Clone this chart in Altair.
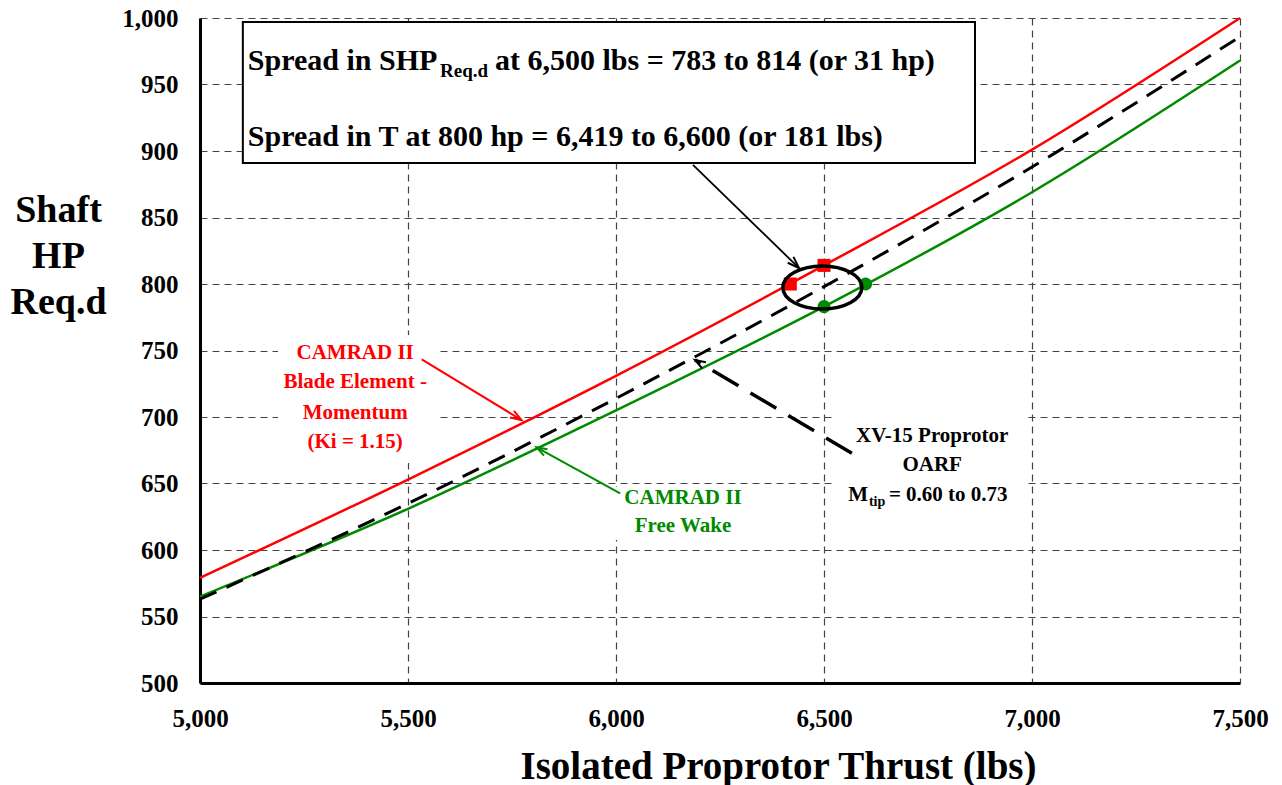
import math
import altair as alt
import pandas as pd

# ---------------- data ----------------
thrust = [5000, 5500, 6000, 6500, 7000, 7500]
shp_bem = [579, 653, 731, 814, 901, 1000]      # CAMRAD II Blade Element - Momentum (red)
shp_fw = [565, 631, 705, 783, 869, 968]        # CAMRAD II Free Wake (green)
shp_oarf = [563, 635, 714, 798, 888, 986]      # XV-15 Proprotor OARF (black dashed)

bem_mark_t = [6419, 6500]
bem_mark_p = [800, 814]
fw_mark_t = [6500, 6600]
fw_mark_p = [783, 800]

x_ticks = [5000, 5500, 6000, 6500, 7000, 7500]
y_ticks = [500, 550, 600, 650, 700, 750, 800, 850, 900, 950, 1000]

x_title = "Isolated Proprotor Thrust (lbs)"
y_title = ["Shaft", "HP", "Req.d"]

red_lines = ["CAMRAD II", "Blade Element -", "Momentum", "(Ki = 1.15)"]
green_lines = ["CAMRAD II", "Free Wake"]
black_lines = ["XV-15 Proprotor", "OARF"]
box_line1 = ["Spread in SHP", "Req.d", "at 6,500 lbs = 783 to 814 (or 31 hp)"]
box_line2 = "Spread in T at 800 hp = 6,419 to 6,600 (or 181 lbs)"
mtip = ["M", "tip", "= 0.60 to 0.73"]

# ---------------- layout / style ----------------
W, H = 1040, 665
XD = [5000, 7500]
YD = [500, 1000]
SX = W / (XD[1] - XD[0])
SY = H / (YD[1] - YD[0])
FONT = "Liberation Serif"
RED = "#ff0000"
GREEN = "#008a00"


def X(field="t"):
    return alt.X(
        f"{field}:Q",
        scale=alt.Scale(domain=XD, nice=False, zero=False),
        axis=alt.Axis(
            values=x_ticks, format=",d", grid=True, gridDash=[7, 5], gridColor="#444",
            gridWidth=1.2, domainColor="black", domainWidth=3, ticks=False, tickSize=0,
            labelFont=FONT, labelFontWeight="bold", labelFontSize=25, labelColor="black",
            labelPadding=23, labelFlush=False, labelOverlap=False,
            title=x_title, titleFont=FONT, titleFontWeight="bold",
            titleFontSize=39, titleColor="black", titleX=578, titleY=95,
            titleBaseline="alphabetic", titleAlign="center",
        ),
    )


def Y(field="p"):
    return alt.Y(
        f"{field}:Q",
        scale=alt.Scale(domain=YD, nice=False, zero=False),
        axis=alt.Axis(
            values=y_ticks, format=",d", grid=True, gridDash=[7, 5], gridColor="#444",
            gridWidth=1.2, domainColor="black", domainWidth=3, ticks=False, tickSize=0,
            labelFont=FONT, labelFontWeight="bold", labelFontSize=25, labelColor="black",
            labelPadding=22, labelFlush=False, labelOverlap=False,
            title=y_title, titleFont=FONT, titleFontWeight="bold",
            titleFontSize=38, titleColor="black", titleAngle=0, titleX=-142, titleY=203,
            titleAlign="center", titleBaseline="alphabetic", titleLineHeight=46,
        ),
    )


layers = []

# white backgrounds behind the series labels (they hide the grid)
label_bg = [
    (5187.5, 761.7, 5569.7, 665.4),
    (5968.8, 647.4, 6339.0, 607.5),
    (6519.0, 705.3, 6990.0, 626.3),
]
for t0, p0, t1, p1 in label_bg:
    layers.append(
        alt.Chart(pd.DataFrame({"t": [t0], "p": [p0], "t2": [t1], "p2": [p1]}))
        .mark_rect(fill="white", strokeWidth=0)
        .encode(x=X(), y=Y(), x2="t2:Q", y2="p2:Q")
    )

# curves
for vals, color, dash, width in [
    (shp_bem, RED, None, 2.5),
    (shp_fw, GREEN, None, 2.5),
    (shp_oarf, "black", [18, 11], 3),
]:
    df = pd.DataFrame({"t": thrust, "p": vals})
    kw = dict(color=color, strokeWidth=width, interpolate="monotone")
    if dash:
        kw["strokeDash"] = dash
    layers.append(alt.Chart(df).mark_line(**kw).encode(x=X(), y=Y()))

# markers
layers.append(
    alt.Chart(pd.DataFrame({"t": bem_mark_t, "p": bem_mark_p}))
    .mark_square(size=170, color=RED, opacity=1)
    .encode(x=X(), y=Y())
)
layers.append(
    alt.Chart(pd.DataFrame({"t": fw_mark_t, "p": fw_mark_p}))
    .mark_circle(size=170, color=GREEN, opacity=1)
    .encode(x=X(), y=Y())
)

# ellipse around the spread
ellipse_path = ("M -1 0 C -1 -0.301 -0.552 -0.545 0 -0.545 C 0.552 -0.545 1 -0.301 1 0 "
                "C 1 0.301 0.552 0.545 0 0.545 C -0.552 0.545 -1 0.301 -1 0 Z")
layers.append(
    alt.Chart(pd.DataFrame({"t": [6496], "p": [797.4]}))
    .mark_point(shape=ellipse_path, size=6241, filled=False, stroke="black",
                strokeWidth=3.5, opacity=1)
    .encode(x=X(), y=Y())
)

# leader arrows: (start t, start p, tip t, tip p, color, dash, width, head size)
arrows = [
    (6185, 889.5, 6440, 812.0, "black", None, 1.8, 330),
    (5533, 743.4, 5773, 697.7, RED, None, 2.0, 300),
    (6010, 642.6, 5809, 677.2, GREEN, None, 2.0, 260),
    (6567, 672.7, 6190, 742.9, "black", [30, 14], 3.5, 260),
]
head_path = "M -0.45 1.3 L 0 0 L 0.45 1.3"
for t0, p0, t1, p1, col, dash, sw, hs in arrows:
    df = pd.DataFrame({"t": [t0], "p": [p0], "t2": [t1], "p2": [p1]})
    kw = dict(color=col, strokeWidth=sw)
    if dash:
        kw["strokeDash"] = dash
    layers.append(alt.Chart(df).mark_rule(**kw).encode(
        x=X(), y=Y(), x2="t2:Q", y2="p2:Q"))
    dx = (t1 - t0) * SX
    dy = -(p1 - p0) * SY
    ang = math.degrees(math.atan2(dx, -dy)) % 360
    layers.append(
        alt.Chart(pd.DataFrame({"t": [t1], "p": [p1]}))
        .mark_point(shape=head_path, size=hs, filled=False, stroke=col,
                    strokeWidth=2, angle=ang, opacity=1)
        .encode(x=X(), y=Y())
    )

# text box
layers.append(
    alt.Chart(pd.DataFrame({"t": [5103], "p": [997], "t2": [6863], "p2": [891]}))
    .mark_rect(fill="white", stroke="black", strokeWidth=2)
    .encode(x=X(), y=Y(), x2="t2:Q", y2="p2:Q")
)


def text_layer(ts, ps, texts, color="black", size=21, align="center"):
    df = pd.DataFrame({"t": ts, "p": ps, "txt": texts})
    return alt.Chart(df).mark_text(
        font=FONT, fontWeight="bold", fontSize=size, color=color,
        align=align, baseline="alphabetic",
    ).encode(x=X(), y=Y(), text="txt:N")


layers.append(text_layer([5115], [960.9], [box_line1[0]], size=30, align="left"))
layers.append(text_layer([5577], [955.6], [box_line1[1]], size=19, align="left"))
layers.append(text_layer([5709], [960.9], [box_line1[2]], size=30, align="left"))
layers.append(text_layer([5115], [903.8], [box_line2], size=30, align="left"))

layers.append(text_layer([5373] * 4, [743.6, 721.8, 698.5, 676.7], red_lines, color=RED, size=21))
layers.append(text_layer([6161] * 2, [634.6, 613.5], green_lines, color=GREEN, size=21))
layers.append(text_layer([6760] * 2, [681.2, 659.4], black_lines, size=21))
layers.append(text_layer([6606], [636.8], [mtip[0]], size=21, align="right"))
layers.append(text_layer([6608], [633.1], [mtip[1]], size=14, align="left"))
layers.append(text_layer([6656], [636.8], [mtip[2]], size=21, align="left"))

chart = (
    alt.layer(*layers)
    .properties(
        width=W, height=H,
        padding={"left": 200, "top": 18, "right": 42, "bottom": 102},
        autosize=alt.AutoSizeParams(type="none"),
        background="white",
    )
    .configure_view(strokeWidth=0)
)

chart.save("out.html", embed_options={"renderer": "svg", "actions": False})
